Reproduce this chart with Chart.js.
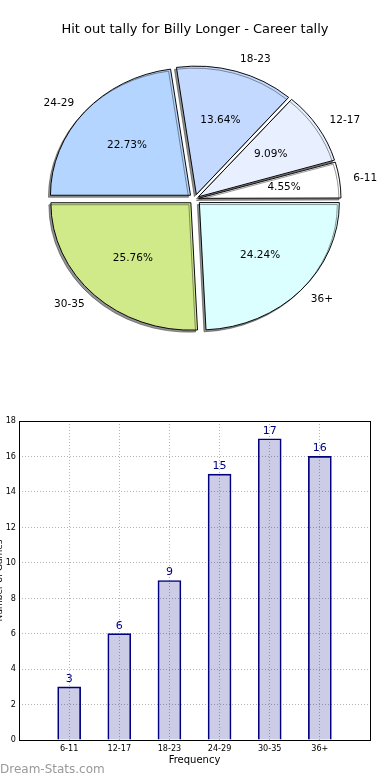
<!DOCTYPE html>
<html>
<head>
<meta charset="utf-8">
<script src="https://cdn.jsdelivr.net/npm/chart.js@4.4.0/dist/chart.umd.min.js"></script>
<style>
  html, body { margin: 0; padding: 0; background: #fff; }
  body { width: 390px; height: 780px; position: relative; overflow: hidden; }
  #pieBox { position: absolute; left: 0; top: 0; }
  #barBox { position: absolute; left: -8px; top: 400px; }
  #mark { position: absolute; left: 0; top: 762px; font: 12px "DejaVu Sans", sans-serif; color: #999; }
</style>
</head>
<body>
<div id="pieBox"><canvas id="pie" width="390" height="360"></canvas></div>
<div id="barBox"><canvas id="bar" width="400" height="380"></canvas></div>
<div id="mark">Dream-Stats.com</div>
<script>
const TITLE = "Hit out tally for Billy Longer - Career tally";
const CATEGORIES = ["6-11", "12-17", "18-23", "24-29", "30-35", "36+"];
const GAMES = [3, 6, 9, 15, 17, 16];
const PIE_COLORS = ["#ffffff", "#e8f0ff", "#c4d9ff", "#b4d5ff", "#d0ea8a", "#dbfeff"];
const Y_TICKS = [0, 2, 4, 6, 8, 10, 12, 14, 16, 18];
const X_TITLE = "Frequency";
const Y_TITLE = "Number of Games";

const SQUASH = 0.91;   // the pie is a little flatter than round
const EXPLODE = 6;     // px each wedge is pulled out
const FONT = "'DejaVu Sans', sans-serif";
const SMALL = "'DejaVu Sans Condensed', 'Liberation Sans Narrow', 'DejaVu Sans', sans-serif";

// pie goes counter-clockwise from 3 o'clock, chart.js goes clockwise, so flip the order
const order = CATEGORIES.map((_, i) => CATEGORIES.length - 1 - i);
const total = GAMES.reduce((a, b) => a + b, 0);

// chart.js moves a wedge by offset/4*(2-sin(angle)), undo that so all move the same
function wedgeOffset(value) {
  const angle = value / total * Math.PI * 2;
  return 4 * EXPLODE / (2 - Math.sin(Math.min(Math.PI, angle)));
}

const pieDecor = {
  id: "pieDecor",
  beforeDatasetsDraw(chart) {
    const ctx = chart.ctx;
    const arc = chart.getDatasetMeta(0).data[0];
    ctx.save();
    ctx.translate(arc.x, arc.y);
    ctx.scale(1, SQUASH);
    ctx.translate(-arc.x, -arc.y);
    ctx.shadowColor = "rgba(40,40,40,0.5)";
    ctx.shadowOffsetX = -2;
    ctx.shadowOffsetY = 2;
    ctx.shadowBlur = 0;
  },
  afterDatasetsDraw(chart) {
    const ctx = chart.ctx;
    ctx.restore();
    const meta = chart.getDatasetMeta(0);
    ctx.save();
    ctx.fillStyle = "#000";
    ctx.font = "10.5px " + FONT;
    ctx.textBaseline = "middle";
    meta.data.forEach((arc, j) => {
      const i = order[j];
      const mid = (arc.startAngle + arc.endAngle) / 2;
      const shift = arc.options.offset / 4 * (2 - Math.sin(Math.min(Math.PI, arc.circumference)));
      const R = arc.outerRadius;
      const at = k => [arc.x + Math.cos(mid) * (shift + k * R), arc.y + SQUASH * Math.sin(mid) * (shift + k * R)];
      const p = at(0.6);
      ctx.textAlign = "center";
      ctx.fillText((GAMES[i] / total * 100).toFixed(2) + "%", p[0], p[1]);
      const l = at(1.1);
      ctx.textAlign = Math.cos(mid) >= 0 ? "left" : "right";
      ctx.fillText(CATEGORIES[i], l[0], l[1]);
    });
    ctx.restore();
  }
};

new Chart(document.getElementById("pie"), {
  type: "pie",
  data: {
    labels: order.map(i => CATEGORIES[i]),
    datasets: [{
      data: order.map(i => GAMES[i]),
      backgroundColor: order.map(i => PIE_COLORS[i]),
      borderColor: "#000",
      borderWidth: 1,
      offset: order.map(i => wedgeOffset(GAMES[i])),
      radius: 140,
      rotation: 90
    }]
  },
  options: {
    responsive: false,
    animation: false,
    radius: 140,
    rotation: 90,
    layout: { padding: 0 },
    plugins: {
      legend: { display: false },
      tooltip: { enabled: false },
      title: {
        display: true,
        text: TITLE,
        color: "#000",
        font: { family: FONT, size: 13, weight: "normal" },
        padding: { top: 22, bottom: 0 }
      }
    }
  },
  plugins: [pieDecor]
});

// box round the plot and the numbers over the bars
const barDecor = {
  id: "barDecor",
  afterDatasetsDraw(chart) {
    const ctx = chart.ctx;
    const a = chart.chartArea;
    ctx.save();
    ctx.strokeStyle = "#000";
    ctx.lineWidth = 1;
    ctx.strokeRect(a.left + 0.5, a.top + 0.5, a.right - a.left, a.bottom - a.top);
    ctx.fillStyle = "#000080";
    ctx.font = "11px " + FONT;
    ctx.textAlign = "center";
    ctx.textBaseline = "middle";
    chart.getDatasetMeta(0).data.forEach((bar, i) => {
      ctx.fillText(String(GAMES[i]), bar.x, bar.y - 8);
    });
    ctx.restore();
  }
};

const gridStyle = { color: "#b4b4b4", lineWidth: 1, drawTicks: false };

new Chart(document.getElementById("bar"), {
  type: "bar",
  data: {
    datasets: [{
      data: GAMES.map((v, i) => ({ x: i, y: v })),
      backgroundColor: "rgba(0,0,128,0.2)",
      borderColor: "#000080",
      borderWidth: 1,
      barThickness: 23
    }]
  },
  options: {
    responsive: false,
    animation: false,
    layout: { padding: { top: 21, right: 22, left: 0, bottom: 0 } },
    plugins: { legend: { display: false }, tooltip: { enabled: false } },
    scales: {
      x: {
        type: "linear",
        min: -1,
        max: CATEGORIES.length,
        offset: false,
        afterBuildTicks: s => { s.ticks = CATEGORIES.map((_, i) => ({ value: i })); },
        afterFit: s => { s.height = 40; },
        ticks: {
          callback: v => CATEGORIES[v],
          color: "#000",
          font: { family: SMALL, size: 9 },
          padding: 3,
          maxRotation: 0,
          autoSkip: false
        },
        grid: Object.assign({ offset: false }, gridStyle),
        border: { display: false, dash: [1, 2] },
        title: {
          display: true,
          text: X_TITLE,
          color: "#000",
          font: { family: FONT, size: 10 },
          padding: { top: 0, bottom: 14 }
        }
      },
      y: {
        min: 0,
        max: Y_TICKS[Y_TICKS.length - 1],
        afterBuildTicks: s => { s.ticks = Y_TICKS.map(v => ({ value: v })); },
        afterFit: s => { s.width = 27; },
        ticks: { color: "#000", font: { family: SMALL, size: 9 }, padding: 3 },
        grid: gridStyle,
        border: { display: false, dash: [1, 2] },
        title: {
          display: true,
          text: Y_TITLE,
          color: "#000",
          font: { family: FONT, size: 9 },
          padding: { top: 2, bottom: 0 }
        }
      }
    }
  },
  plugins: [barDecor]
});
</script>
</body>
</html>
